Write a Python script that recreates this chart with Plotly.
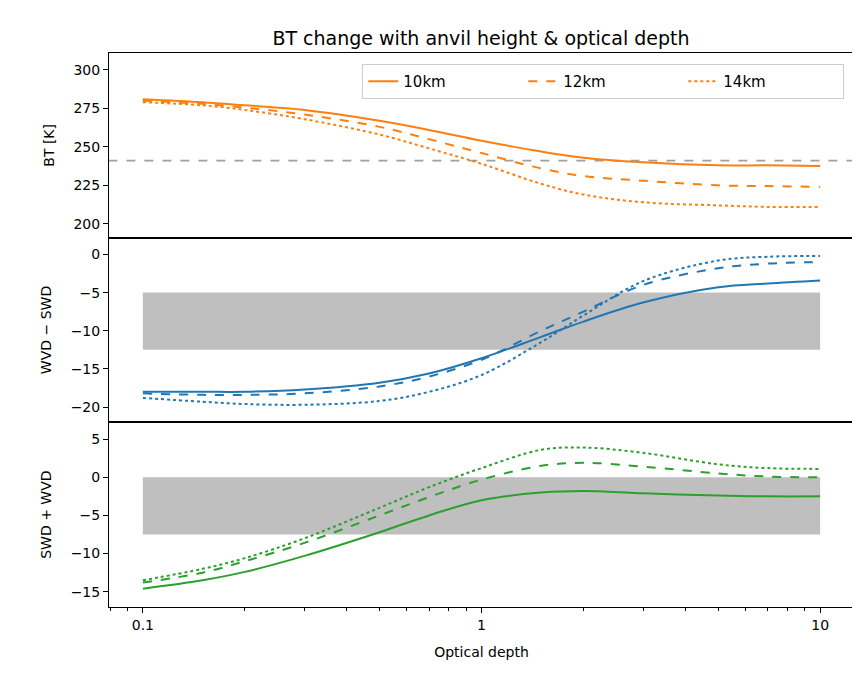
import plotly.graph_objects as go
from plotly.subplots import make_subplots

tau = [0.1, 0.15, 0.2, 0.3, 0.5, 0.7, 1, 1.5, 2, 3, 5, 7, 10]
heights = ["10km", "12km", "14km"]
dashes = ["solid", "dash", "dot"]

bt = {
    "10km": [281, 279, 277, 274, 267, 261, 254, 247, 243, 240, 238, 238, 237.5],
    "12km": [280, 278, 275.5, 271, 263, 255, 246, 236, 231, 228, 225, 224.5, 224],
    "14km": [279, 277, 274, 268, 258, 249, 239, 226, 219, 214, 212, 211, 211],
}
wvd_swd = {
    "10km": [-18, -18, -18, -17.7, -16.8, -15.6, -13.6, -10.8, -8.8, -6.3, -4.3, -3.8, -3.4],
    "12km": [-18.2, -18.4, -18.4, -18.2, -17.3, -16, -13.8, -10, -7.5, -4, -1.8, -1.2, -1],
    "14km": [-18.8, -19.3, -19.6, -19.7, -19.2, -18, -15.8, -11.5, -8, -3.5, -0.8, -0.3, -0.2],
}
swd_wvd = {
    "10km": [-14.6, -13.5, -12.4, -10.3, -7.2, -5, -3, -2, -1.8, -2.1, -2.4, -2.5, -2.5],
    "12km": [-13.8, -12.5, -11, -8.6, -5, -2.6, -0.3, 1.5, 1.9, 1.4, 0.5, 0.1, 0],
    "14km": [-13.5, -12, -10.6, -8, -4, -1.3, 1.2, 3.6, 3.9, 3.2, 1.7, 1.2, 1.1],
}
bt_threshold = 241
band_mid = (-12.5, -5)
band_bot = (-7.5, 0)

fig = make_subplots(rows=3, cols=1, shared_xaxes=True, vertical_spacing=0)

# grey bands and threshold line
fig.add_trace(go.Scatter(x=[0.1, 10, 10, 0.1], y=[band_mid[0], band_mid[0], band_mid[1], band_mid[1]],
                         fill="toself", fillcolor="#bfbfbf", line=dict(width=0), mode="lines",
                         showlegend=False, hoverinfo="skip"), row=2, col=1)
fig.add_trace(go.Scatter(x=[0.1, 10, 10, 0.1], y=[band_bot[0], band_bot[0], band_bot[1], band_bot[1]],
                         fill="toself", fillcolor="#bfbfbf", line=dict(width=0), mode="lines",
                         showlegend=False, hoverinfo="skip"), row=3, col=1)
fig.add_trace(go.Scatter(x=[0.07, 14], y=[bt_threshold, bt_threshold], mode="lines",
                         line=dict(color="#a0a0a0", dash="dash", width=1.8),
                         showlegend=False), row=1, col=1)

for h, d in zip(heights, dashes):
    fig.add_trace(go.Scatter(x=tau, y=bt[h], mode="lines", name=h,
                             line=dict(color="#ff7f0e", dash=d, width=2, shape="spline")), row=1, col=1)
    fig.add_trace(go.Scatter(x=tau, y=wvd_swd[h], mode="lines", showlegend=False,
                             line=dict(color="#1f77b4", dash=d, width=2, shape="spline")), row=2, col=1)
    fig.add_trace(go.Scatter(x=tau, y=swd_wvd[h], mode="lines", showlegend=False,
                             line=dict(color="#2ca02c", dash=d, width=2, shape="spline")), row=3, col=1)

axstyle = dict(showline=True, linecolor="black", mirror=True,
               showgrid=False, zeroline=False, tickcolor="black")
for r in (1, 2, 3):
    bottom = r == 3
    fig.update_xaxes(type="log", range=[-1.1, 1.1], tickvals=[0.1, 1, 10], ticktext=["0.1", "1", "10"],
                     ticks="outside" if bottom else "",
                     minor=dict(ticks="outside" if bottom else "", ticklen=3, tickcolor="black", dtick="D1"),
                     row=r, col=1, **axstyle)
fig.update_xaxes(title_text="Optical depth", title_font_size=14, row=3, col=1)
fig.update_yaxes(range=[191, 311], tickvals=[200, 225, 250, 275, 300], title_text="BT [K]", ticks="outside",
                 row=1, col=1, **axstyle)
fig.update_yaxes(range=[-22, 2.2], tickvals=[0, -5, -10, -15, -20], title_text="WVD − SWD", ticks="outside",
                 row=2, col=1, **axstyle)
fig.update_yaxes(range=[-17, 7.2], tickvals=[5, 0, -5, -10, -15], title_text="SWD + WVD", ticks="outside",
                 row=3, col=1, **axstyle)
fig.update_yaxes(title_font_size=14)

fig.update_layout(
    width=860, height=678,
    title=dict(text="BT change with anvil height & optical depth", x=0.55, y=0.965, font=dict(size=19)),
    font=dict(family="DejaVu Sans", size=14, color="black"),
    plot_bgcolor="white", paper_bgcolor="white",
    margin=dict(l=101, r=14, t=45, b=79),
    legend=dict(orientation="h", x=0.987, xanchor="right", y=0.98, yanchor="top",
                bordercolor="#cccccc", borderwidth=1, bgcolor="white", font=dict(size=15),
                entrywidth=115),
)
fig.write_html("out.html")
